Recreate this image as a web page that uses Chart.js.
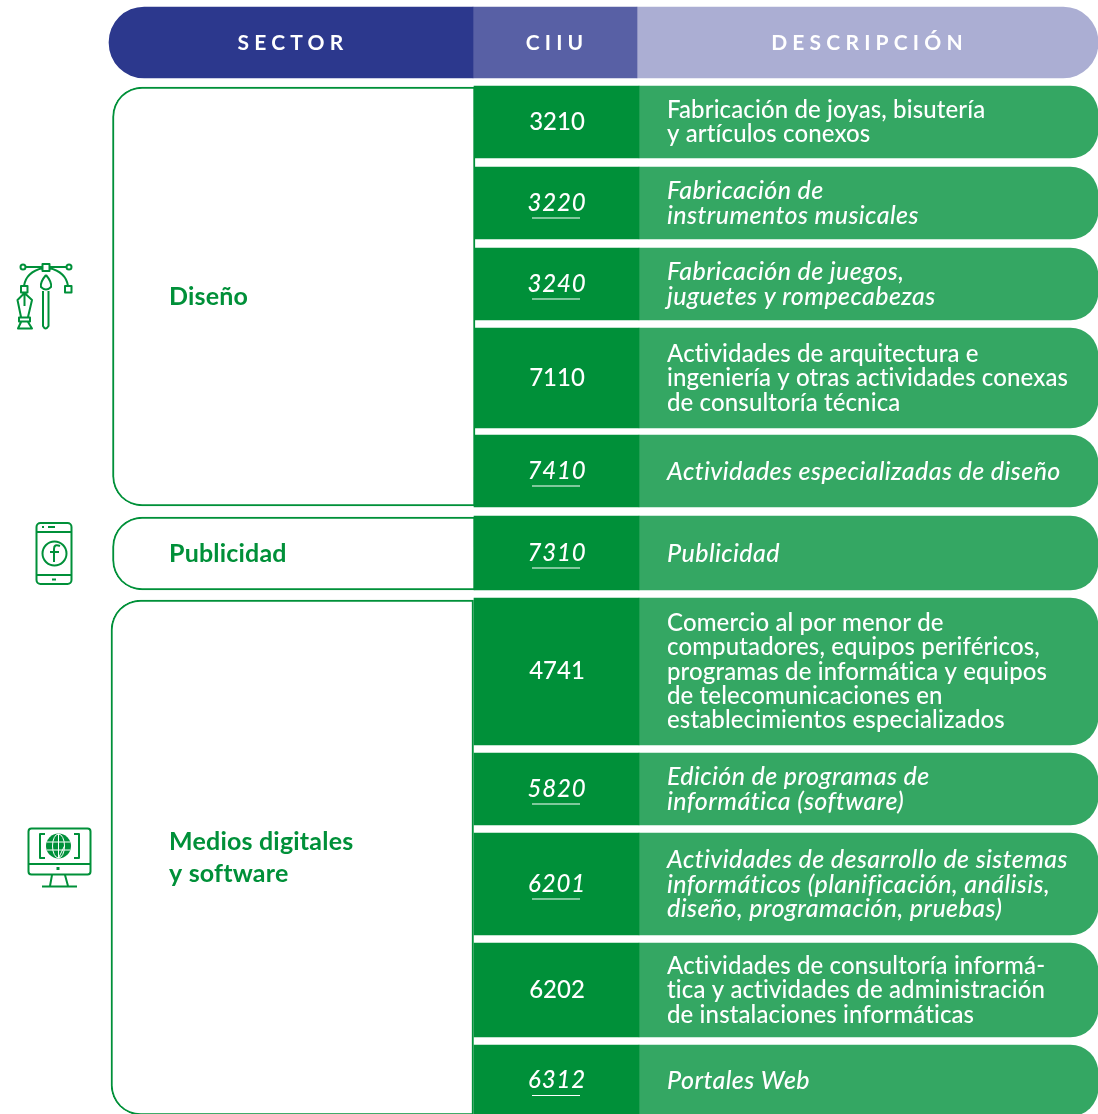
<!DOCTYPE html>
<html lang="es">
<head>
<meta charset="utf-8">
<title>Sectores CIIU</title>
<script src="https://cdn.jsdelivr.net/npm/chart.js@4"></script>
<style>
    html, body { margin: 0; padding: 0; background: #fff; overflow: hidden; }
    canvas { display: block; }
</style>
</head>
<body>
<canvas id="myChart" width="1098" height="1114"></canvas>
<script>
const headers = ['SECTOR', 'CIIU', 'DESCRIPCIÓN'];

const sectors = [['Diseño'], ['Publicidad'], ['Medios digitales', 'y software']];
const sectorTop = [87, 517, 600];
const sectorBottom = [506, 590, 1115];

const codes = ['3210', '3220', '3240', '7110', '7410', '7310', '4741', '5820', '6201', '6202', '6312'];
const rowTop = [86, 167, 248, 328, 435, 516, 598, 753, 833, 943, 1045];
const rowBottom = [158, 239, 320, 428, 507, 590, 745, 825, 935, 1037, 1116];
const highlighted = [false, true, true, false, true, true, false, true, true, false, true];
const descriptions = [
    ['Fabricación de joyas, bisutería', 'y artículos conexos'],
    ['Fabricación de', 'instrumentos musicales'],
    ['Fabricación de juegos,', 'juguetes y rompecabezas'],
    ['Actividades de arquitectura e', 'ingeniería y otras actividades conexas', 'de consultoría técnica'],
    ['Actividades especializadas de diseño'],
    ['Publicidad'],
    ['Comercio al por menor de', 'computadores, equipos periféricos,', 'programas de informática y equipos', 'de telecomunicaciones en', 'establecimientos especializados'],
    ['Edición de programas de', 'informática (software)'],
    ['Actividades de desarrollo de sistemas', 'informáticos (planificación, análisis,', 'diseño, programación, pruebas)'],
    ['Actividades de consultoría informá-', 'tica y actividades de administración', 'de instalaciones informáticas'],
    ['Portales Web']
];

const GREEN = '#009039';
const FONT = 'Lato, sans-serif';

// column edges, same units as the x scale
const colSector = [109, 473];
const colCiiu = [473, 637];
const colDesc = [637, 1098];
const colSectorBox = [112.5, 475];
const colCode = [474, 639];
const colText = [639, 1098];

const mid = (a) => (a[0] + a[1]) / 2;
const size = (a) => a[1] - a[0];

function column(edges, tops, bottoms) {
    return tops.map((t, i) => ({ x: mid(edges), y: [t, bottoms[i]] }));
}

function barSet(edges, tops, bottoms, color, radius, extra) {
    return Object.assign({
        data: column(edges, tops, bottoms),
        backgroundColor: color,
        barThickness: size(edges),
        borderRadius: radius,
        borderSkipped: false,
        borderWidth: 0,
        grouped: false
    }, extra);
}

function drawPhone(ctx) {
    ctx.beginPath();
    ctx.roundRect(36.5, 523, 35, 61, 4);
    ctx.moveTo(36.5, 532); ctx.lineTo(71.5, 532);
    ctx.moveTo(36.5, 575); ctx.lineTo(71.5, 575);
    ctx.moveTo(42, 527); ctx.lineTo(44, 527);
    ctx.moveTo(48, 527); ctx.lineTo(55, 527);
    ctx.moveTo(52, 579.5); ctx.lineTo(56, 579.5);
    ctx.moveTo(66.5, 553.5); ctx.arc(54.5, 553.5, 12, 0, Math.PI * 2);
    // f
    ctx.moveTo(60, 546); ctx.quadraticCurveTo(54, 543.5, 54, 549); ctx.lineTo(54, 562);
    ctx.moveTo(50, 552); ctx.lineTo(59, 552);
    ctx.stroke();
}

function drawMonitor(ctx) {
    ctx.beginPath();
    ctx.roundRect(28.5, 828.5, 62, 46, 3);
    ctx.moveTo(28.5, 864); ctx.lineTo(90.5, 864);
    ctx.moveTo(52, 875); ctx.lineTo(50, 886);
    ctx.moveTo(65, 875); ctx.lineTo(68, 886);
    ctx.moveTo(42, 886.5); ctx.lineTo(77, 886.5);
    ctx.moveTo(45, 834); ctx.lineTo(40, 834); ctx.lineTo(40, 858); ctx.lineTo(45, 858);
    ctx.moveTo(74, 834); ctx.lineTo(79, 834); ctx.lineTo(79, 858); ctx.lineTo(74, 858);
    ctx.stroke();
    ctx.fillStyle = GREEN;
    ctx.beginPath(); ctx.rect(56.5, 867, 3, 3); ctx.fill();
    ctx.beginPath(); ctx.arc(58.5, 846, 12.5, 0, Math.PI * 2); ctx.fill();
    // globe grid
    ctx.save();
    ctx.strokeStyle = '#fff';
    ctx.lineWidth = 1;
    ctx.beginPath();
    ctx.moveTo(47, 842); ctx.lineTo(70, 842);
    ctx.moveTo(47, 850); ctx.lineTo(70, 850);
    ctx.moveTo(58.5, 834); ctx.lineTo(58.5, 858);
    ctx.ellipse(58.5, 846, 6, 12, 0, 0, Math.PI * 2);
    ctx.stroke();
    ctx.restore();
}

function drawPenTool(ctx) {
    ctx.beginPath();
    ctx.moveTo(26, 267); ctx.lineTo(43, 267);
    ctx.moveTo(49, 267); ctx.lineTo(66, 267);
    ctx.moveTo(25.5, 267); ctx.arc(23, 267, 2.5, 0, Math.PI * 2);
    ctx.moveTo(71.5, 267); ctx.arc(69, 267, 2.5, 0, Math.PI * 2);
    ctx.rect(42.5, 264, 7, 7);
    ctx.rect(21, 286, 6.5, 6.5);
    ctx.rect(65, 286, 6.5, 6.5);
    ctx.moveTo(24, 286); ctx.quadraticCurveTo(26, 272, 43, 268);
    ctx.moveTo(68, 286); ctx.quadraticCurveTo(66, 272, 49, 268);
    // brush
    ctx.moveTo(46, 275); ctx.quadraticCurveTo(40, 282, 41, 287); ctx.quadraticCurveTo(46, 292, 51, 287); ctx.quadraticCurveTo(52, 282, 46, 275);
    ctx.moveTo(43, 291); ctx.lineTo(43, 326); ctx.quadraticCurveTo(45.5, 331, 48.5, 326); ctx.lineTo(48.5, 291);
    // nib
    ctx.moveTo(24.5, 293); ctx.lineTo(17.5, 300); ctx.lineTo(21, 317);
    ctx.moveTo(24.5, 293); ctx.lineTo(32, 300); ctx.lineTo(28, 317);
    ctx.moveTo(24.5, 295); ctx.lineTo(24.5, 306);
    ctx.rect(19, 317.5, 11, 4);
    ctx.moveTo(21, 322); ctx.lineTo(18, 328.5); ctx.lineTo(32, 328.5); ctx.lineTo(28, 322);
    ctx.stroke();
}

const tablePlugin = {
    id: 'tablePlugin',
    afterDatasetsDraw(chart) {
        const ctx = chart.ctx;
        const x = chart.scales.x;
        const y = chart.scales.y;
        ctx.save();
        ctx.textBaseline = 'middle';

        // headers
        ctx.fillStyle = '#fff';
        ctx.textAlign = 'center';
        ctx.letterSpacing = '5.2px';
        ctx.font = 'bold 21px ' + FONT;
        [colSector, colCiiu, colDesc].forEach((c, i) => {
            ctx.fillText(headers[i], x.getPixelForValue(mid(c)) + 2, y.getPixelForValue(43));
        });
        ctx.letterSpacing = '0px';

        // sector names
        ctx.fillStyle = GREEN;
        ctx.textAlign = 'left';
        ctx.letterSpacing = '0.2px';
        ctx.font = 'bold 25px ' + FONT;
        sectors.forEach((lines, i) => {
            const c = (sectorTop[i] + sectorBottom[i]) / 2;
            lines.forEach((line, j) => {
                ctx.fillText(line, x.getPixelForValue(169), y.getPixelForValue(c + (j - (lines.length - 1) / 2) * 32));
            });
        });

        // rows
        ctx.fillStyle = '#fff';
        codes.forEach((code, i) => {
            const c = (rowTop[i] + rowBottom[i]) / 2;
            const style = highlighted[i] ? 'italic ' : '';
            ctx.textAlign = 'center';
            ctx.letterSpacing = highlighted[i] ? '0.8px' : '0px';
            ctx.font = style + '500 24px ' + FONT;
            ctx.fillText(code, x.getPixelForValue(557), y.getPixelForValue(c));
            if (highlighted[i]) {
                ctx.fillRect(x.getPixelForValue(532), y.getPixelForValue(c + 14.5), 48, 1);
            }
            ctx.textAlign = 'left';
            ctx.letterSpacing = highlighted[i] ? '0.4px' : '0.12px';
            ctx.font = style + '500 ' + (highlighted[i] ? 25 : 24) + 'px ' + FONT;
            const lines = descriptions[i];
            lines.forEach((line, j) => {
                ctx.fillText(line, x.getPixelForValue(667), y.getPixelForValue(c + 0.5 + (j - (lines.length - 1) / 2) * 24.3));
            });
        });
        ctx.letterSpacing = '0px';

        // icons
        ctx.strokeStyle = GREEN;
        ctx.lineWidth = 2;
        ctx.lineJoin = 'round';
        drawPenTool(ctx);
        drawPhone(ctx);
        drawMonitor(ctx);
        ctx.restore();
    }
};

const sectorBars = barSet(colSectorBox, sectorTop, sectorBottom, '#fff', { topLeft: 30, bottomLeft: 30, topRight: 0, bottomRight: 0 }, { borderColor: GREEN, borderWidth: 2 });
// the third box sits a little further left in the picture
sectorBars.data[2].x -= 1.5;

const config = {
    type: 'bar',
    data: {
        datasets: [
            barSet(colSector, [7], [78], '#2c388d', { topLeft: 36, bottomLeft: 36, topRight: 0, bottomRight: 0 }),
            barSet(colCiiu, [7], [78], '#5860a5', 0),
            barSet(colDesc, [7], [78], '#abaed3', { topLeft: 0, bottomLeft: 0, topRight: 35, bottomRight: 35 }),
            sectorBars,
            barSet(colCode, rowTop, rowBottom, GREEN, 0),
            barSet(colText, rowTop, rowBottom, '#34a763', { topLeft: 0, bottomLeft: 0, topRight: 28, bottomRight: 28 })
        ]
    },
    options: {
        responsive: false,
        animation: false,
        layout: { padding: 0 },
        plugins: {
            legend: { display: false },
            title: { display: false },
            tooltip: { enabled: false }
        },
        scales: {
            x: { type: 'linear', min: 0, max: 1098, display: false, offset: false },
            y: { type: 'linear', min: 0, max: 1114, reverse: true, display: false }
        }
    },
    plugins: [tablePlugin]
};

var myChart = new Chart(document.getElementById('myChart'), config);
</script>
</body>
</html>
